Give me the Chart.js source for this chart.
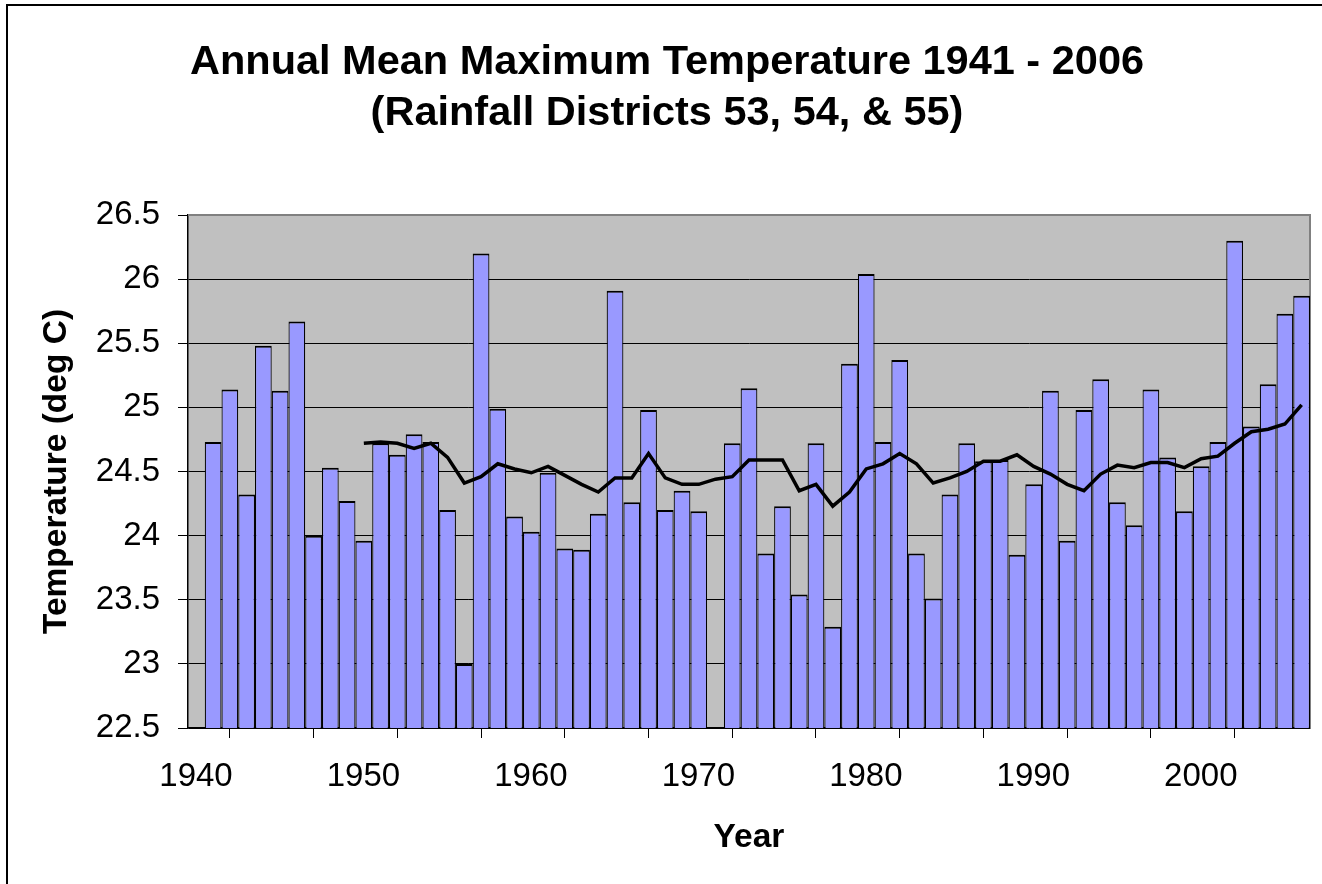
<!DOCTYPE html>
<html>
<head>
<meta charset="utf-8">
<title>Annual Mean Maximum Temperature 1941 - 2006</title>
<script src="https://cdn.jsdelivr.net/npm/chart.js@4.4.1/dist/chart.umd.min.js"></script>
<style>
  html, body { margin: 0; padding: 0; background: #fff; }
  #wrap { width: 1322px; height: 884px; }
</style>
</head>
<body>
<div id="wrap"><canvas id="tempChart" width="1322" height="884"></canvas></div>
<script>
// Years plotted (1971 has no record)
const years = [
  1941, 1942, 1943, 1944, 1945, 1946, 1947, 1948, 1949, 1950,
  1951, 1952, 1953, 1954, 1955, 1956, 1957, 1958, 1959, 1960,
  1961, 1962, 1963, 1964, 1965, 1966, 1967, 1968, 1969, 1970,
  1971, 1972, 1973, 1974, 1975, 1976, 1977, 1978, 1979, 1980,
  1981, 1982, 1983, 1984, 1985, 1986, 1987, 1988, 1989, 1990,
  1991, 1992, 1993, 1994, 1995, 1996, 1997, 1998, 1999, 2000,
  2001, 2002, 2003, 2004, 2005, 2006
];

// Annual mean maximum temperature (deg C)
const meanMaxTemp = [
  24.73, 25.14, 24.32, 25.48, 25.13, 25.67, 24.00, 24.53, 24.27, 23.96,
  24.72, 24.63, 24.79, 24.73, 24.20, 23.00, 26.20, 24.99, 24.15, 24.03,
  24.49, 23.90, 23.89, 24.17, 25.91, 24.26, 24.98, 24.20, 24.35, 24.19,
  null,  24.72, 25.15, 23.86, 24.23, 23.54, 24.72, 23.29, 25.34, 26.04,
  24.73, 25.37, 23.86, 23.51, 24.32, 24.72, 24.58, 24.59, 23.85, 24.40,
  25.13, 23.96, 24.98, 25.22, 24.26, 24.08, 25.14, 24.61, 24.19, 24.54,
  24.73, 26.30, 24.85, 25.18, 25.73, 25.87
];

// 10-year moving average line
const movingAvg = [
  null,  null,  null,  null,  null,  null,  null,  null,  null,  24.72,
  24.73, 24.72, 24.68, 24.72, 24.61, 24.41, 24.46, 24.56, 24.52, 24.49,
  24.54, 24.47, 24.40, 24.34, 24.45, 24.45, 24.64, 24.45, 24.40, 24.40,
  24.44, 24.46, 24.59, 24.59, 24.59, 24.35, 24.40, 24.23, 24.34, 24.52,
  24.56, 24.64, 24.56, 24.41, 24.45, 24.50, 24.58, 24.58, 24.63, 24.54,
  24.48, 24.40, 24.35, 24.48, 24.55, 24.53, 24.57, 24.57, 24.53, 24.60,
  24.62, 24.72, 24.81, 24.83, 24.87, 25.02
];

const xTickLabels = [1940, 1950, 1960, 1970, 1980, 1990, 2000];
const titleLines = ['Annual Mean Maximum Temperature 1941 - 2006', '(Rainfall Districts 53, 54, & 55)'];

const FONT = "'Liberation Sans', Arial, sans-serif";

// each year's bar fills the interval [year, year + 1]
const barPoints = years.map((y, i) => ({ x: y + 0.5, y: meanMaxTemp[i] }));
const avgPoints = years.map((y, i) => ({ x: y + 0.5, y: movingAvg[i] }));

// white page, outer frame, grey plot area and the two-line title
const chartFrame = {
  id: 'chartFrame',
  beforeDraw(chart) {
    const { ctx, chartArea: a } = chart;
    ctx.save();
    ctx.fillStyle = '#ffffff';
    ctx.fillRect(0, 0, chart.width, chart.height);
    ctx.strokeStyle = '#000000';
    ctx.lineWidth = 2;
    ctx.beginPath();
    ctx.moveTo(7, chart.height + 2);
    ctx.lineTo(7, 5);
    ctx.lineTo(chart.width + 2, 5);
    ctx.stroke();
    ctx.fillStyle = '#c0c0c0';
    ctx.fillRect(a.left, a.top, a.right - a.left, a.bottom - a.top);
    ctx.fillStyle = '#000000';
    ctx.font = 'bold 41.5px ' + FONT;
    ctx.textAlign = 'center';
    ctx.textBaseline = 'alphabetic';
    ctx.fillText(titleLines[0], 667, 74);
    ctx.fillText(titleLines[1], 667, 125);
    ctx.restore();
  },
  beforeDatasetsDraw(chart) {
    const { ctx, chartArea: a } = chart;
    ctx.save();
    ctx.strokeStyle = '#808080';
    ctx.lineWidth = 2;
    ctx.beginPath();
    ctx.moveTo(a.left, a.top);
    ctx.lineTo(a.right, a.top);
    ctx.lineTo(a.right, a.bottom);
    ctx.stroke();
    ctx.restore();
  }
};

const ctx = document.getElementById('tempChart').getContext('2d');
const tempChart = new Chart(ctx, {
  type: 'bar',
  data: {
    datasets: [{
      type: 'line',
      label: '10-year moving average',
      data: avgPoints,
      borderColor: '#000000',
      borderWidth: 3.5,
      pointRadius: 0,
      tension: 0,
      fill: false,
      order: 0
    }, {
      type: 'bar',
      label: 'Mean maximum temperature',
      data: barPoints,
      backgroundColor: '#9999ff',
      borderColor: '#000000',
      borderWidth: { top: 2, left: 1.2, right: 1.2, bottom: 1.5 },
      borderSkipped: false,
      inflateAmount: 0,
      barPercentage: 1,
      categoryPercentage: 1,
      order: 1
    }]
  },
  options: {
    responsive: false,
    animation: false,
    devicePixelRatio: 1,
    layout: { padding: { top: 215, right: 12, bottom: 0, left: 0 } },
    plugins: {
      legend: { display: false },
      title: { display: false },
      tooltip: { enabled: false }
    },
    scales: {
      x: {
        type: 'linear',
        min: 1940,
        max: 2007,
        offset: false,
        afterFit: (scale) => { scale.height = 156; },
        ticks: {
          stepSize: 5,
          includeBounds: false,
          autoSkip: false,
          maxRotation: 0,
          padding: 19,
          labelOffset: 8,
          color: '#000000',
          font: { family: FONT, size: 33 },
          callback: (v) => xTickLabels.includes(v) ? String(v) : ''
        },
        grid: {
          drawOnChartArea: false,
          drawTicks: true,
          tickLength: 10,
          tickColor: '#000000'
        },
        border: { display: true, color: '#000000', width: 1.5 },
        title: {
          display: true,
          text: 'Year',
          color: '#000000',
          font: { family: FONT, size: 33.5, weight: 'bold' },
          padding: { top: 0, bottom: 26 }
        }
      },
      y: {
        min: 22.5,
        max: 26.5,
        afterFit: (scale) => { scale.width = 188; },
        ticks: {
          stepSize: 0.5,
          padding: 18,
          color: '#000000',
          font: { family: FONT, size: 33 },
          callback: (v) => String(Math.round(v * 10) / 10)
        },
        grid: {
          color: (c) => c.tick && c.tick.value === 26.5 ? 'rgba(0,0,0,0)' : '#000000',
          lineWidth: 1,
          drawTicks: true,
          tickLength: 10,
          tickColor: '#000000'
        },
        border: { display: true, color: '#000000', width: 1.5 },
        title: {
          display: true,
          text: 'Temperature (deg C)',
          color: '#000000',
          font: { family: FONT, size: 33.5, weight: 'bold' },
          padding: { top: 37, bottom: 0 }
        }
      }
    }
  },
  plugins: [chartFrame]
});
</script>
</body>
</html>
